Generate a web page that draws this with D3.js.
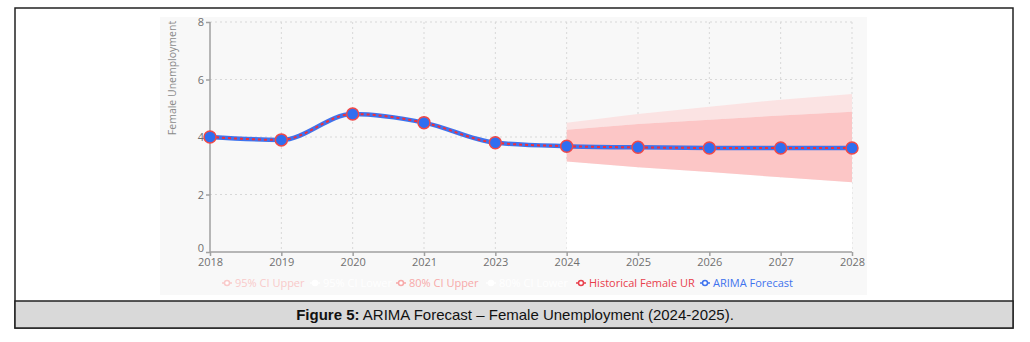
<!DOCTYPE html>
<html>
<head>
<meta charset="utf-8">
<script src="https://cdn.jsdelivr.net/npm/d3@7"></script>
<style>
  body { margin: 0; background: #fff; }
  svg { display: block; }
</style>
</head>
<body>
<svg id="chart" width="1030" height="342"></svg>
<script>
// data
var years = ["2018", "2019", "2020", "2021", "2023", "2024", "2025", "2026", "2027", "2028"];
var rate = [4.0, 3.9, 4.8, 4.5, 3.8, 3.68, 3.64, 3.62, 3.62, 3.62];
var ciYears = ["2024", "2025", "2026", "2027", "2028"];
var upper95 = [4.5, 4.8, 5.05, 5.3, 5.5];
var upper80 = [4.25, 4.45, 4.6, 4.75, 4.88];
var lower80 = [3.15, 2.95, 2.78, 2.6, 2.43];
var lower95 = [2.9, 2.6, 2.35, 2.1, 1.9];
var yTicks = [0, 2, 4, 6, 8];
var legendNames = ["95% CI Upper", "95% CI Lower", "80% CI Upper", "80% CI Lower", "Historical Female UR", "ARIMA Forecast"];
var legendColors = ["#f9caca", "#ffffff", "#f7a9a9", "#ffffff", "#e8404c", "#3f73ee"];

var svg = d3.select("#chart");

// outer frame + caption band
svg.append("rect").attr("x", 15).attr("y", 8).attr("width", 998).attr("height", 320)
  .attr("fill", "#fff").attr("stroke", "#222").attr("stroke-width", 1.5);
svg.append("rect").attr("x", 15).attr("y", 301).attr("width", 998).attr("height", 27)
  .attr("fill", "#d9d9d9").attr("stroke", "#222").attr("stroke-width", 1.5);
var cap = svg.append("text").attr("x", 515).attr("y", 320).attr("text-anchor", "middle")
  .attr("font-family", "Liberation Sans, Arial, sans-serif").attr("font-size", 15).attr("fill", "#111");
cap.append("tspan").attr("font-weight", "bold").text("Figure 5:");
cap.append("tspan").text(" ARIMA Forecast \u2013 Female Unemployment (2024-2025).");

// chart image background
svg.append("rect").attr("x", 160).attr("y", 17).attr("width", 707).attr("height", 278).attr("fill", "#f8f8f8");

var x = d3.scalePoint().domain(years).range([210, 852]);
var y = d3.scaleLinear().domain([0, 8]).range([252, 22]);
var font = "Open Sans, Noto Sans, sans-serif";

// grid
var grid = svg.append("g").attr("stroke", "#d8d8d8").attr("stroke-dasharray", "2,3").attr("stroke-width", 1);
grid.selectAll("line.h").data(yTicks.slice(1)).join("line").attr("class", "h")
  .attr("x1", 210).attr("x2", 852).attr("y1", d => y(d)).attr("y2", d => y(d));
grid.selectAll("line.v").data(years.slice(1)).join("line").attr("class", "v")
  .attr("x1", d => x(d)).attr("x2", d => x(d)).attr("y1", y(8)).attr("y2", y(0));

// confidence bands
var ci = ciYears.map(function (yr, i) {
  return { yr: yr, u95: upper95[i], u80: upper80[i], l80: lower80[i], l95: lower95[i] };
});
var area = function (lo, hi) {
  return d3.area().x(d => x(d.yr)).y0(d => y(lo(d))).y1(d => y(hi(d)));
};
svg.append("path").datum(ci).attr("fill", "#ffffff").attr("d", area(d => 0, d => d.l80));
svg.append("path").datum(ci).attr("fill", "#fbe3e3").attr("d", area(d => d.u80, d => d.u95));
svg.append("path").datum(ci).attr("fill", "#fcc6c6").attr("d", area(d => d.l80, d => d.u80));

// axes
var yAxis = d3.axisLeft(y).tickValues(yTicks).tickSize(4).tickPadding(2);
var gy = svg.append("g").attr("transform", "translate(210,0)").call(yAxis);
var xAxis = d3.axisBottom(x).tickSize(4).tickPadding(2);
var gx = svg.append("g").attr("transform", "translate(0," + y(0) + ")").call(xAxis);
[gx, gy].forEach(function (g) {
  g.selectAll("path, line").attr("stroke", "#a0a0a0").attr("stroke-width", 1.5);
  g.selectAll("text").attr("fill", "#707070").attr("font-size", 11).attr("font-family", font);
});
gx.select(".domain").attr("d", "M210,0H852");
gy.select(".domain").attr("d", "M0," + y(8) + "V" + y(0));
// zero label sits just above the 2018 label
gy.selectAll(".tick text").filter(d => d === 0).attr("dy", "-0.05em");

svg.append("text").attr("transform", "translate(176,78) rotate(-90)").attr("text-anchor", "middle")
  .attr("font-family", font).attr("font-size", 10.5).attr("fill", "#8a8a8a").text("Female Unemployment");

// series line: blue with red dashes
var pts = years.map(function (yr, i) { return { yr: yr, v: rate[i] }; });
var line = d3.line().x(d => x(d.yr)).y(d => y(d.v)).curve(d3.curveMonotoneX);
svg.append("path").datum(pts).attr("fill", "none").attr("stroke", "#3f73ee").attr("stroke-width", 4.5).attr("d", line);
svg.append("path").datum(pts).attr("fill", "none").attr("stroke", "#f0303a").attr("stroke-width", 2)
  .attr("stroke-dasharray", "3,3").attr("d", line);
svg.selectAll("circle.pt").data(pts).join("circle").attr("class", "pt")
  .attr("cx", d => x(d.yr)).attr("cy", d => y(d.v)).attr("r", 6)
  .attr("fill", "#2f6ef0").attr("stroke", "#f04848").attr("stroke-width", 1.5);

// legend
var legendX = [222, 310, 396, 486, 576, 700];
var lg = svg.append("g").selectAll("g").data(legendNames).join("g")
  .attr("transform", (d, i) => "translate(" + legendX[i] + ",283)");
lg.append("line").attr("x1", 0).attr("x2", 10).attr("y1", 0).attr("y2", 0)
  .attr("stroke", (d, i) => legendColors[i]).attr("stroke-width", 1.5);
lg.append("circle").attr("cx", 5).attr("cy", 0).attr("r", 2.5).attr("fill", "#fff")
  .attr("stroke", (d, i) => legendColors[i]).attr("stroke-width", 1.5);
lg.append("text").attr("x", 13).attr("y", 4).attr("font-family", font).attr("font-size", 11)
  .attr("fill", (d, i) => legendColors[i]).text(d => d);
</script>
</body>
</html>
